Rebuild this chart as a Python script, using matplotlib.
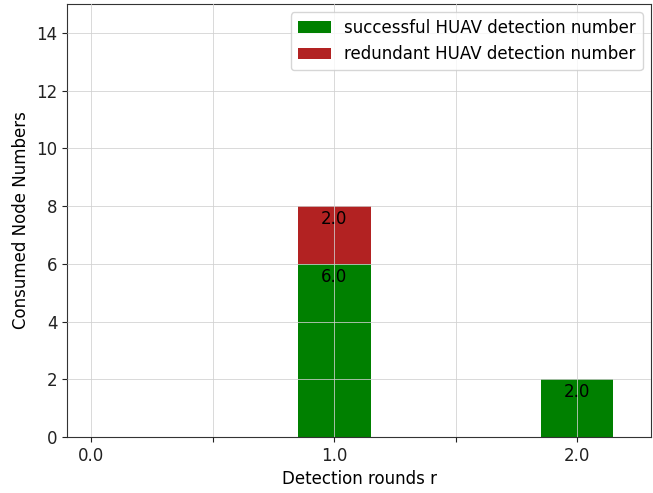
import numpy as np
import matplotlib
matplotlib.use('Agg')
from matplotlib import pyplot as plt

# detection rounds and node counts per round
rounds = [0.0, 1.0, 2.0]
successful = [0, 6, 2]
redundant = [0, 2, 0]
tick_pos = [0.0, 0.5, 1.0, 1.5, 2.0]
tick_labels = ['0.0', '', '1.0', '', '2.0']

plt.rcParams['font.size'] = 12

fig = plt.figure(figsize=(6.53, 4.93), dpi=100)
ax = fig.add_axes([0.1026, 0.1136, 0.8945, 0.8783])

width = 0.3
b1 = ax.bar(rounds, successful, width, color='#008000',
            label='successful HUAV detection number', zorder=2)
b2 = ax.bar(rounds, redundant, width, bottom=successful, color='#b22222',
            label='redundant HUAV detection number', zorder=2)

# value labels just under the top of each non-empty segment
for x, s, r in zip(rounds, successful, redundant):
    if s > 0:
        ax.annotate('{0:.1f}'.format(s), (x, s), xytext=(0, -3),
                    textcoords='offset points', ha='center', va='top',
                    fontsize=12, zorder=4)
    if r > 0:
        ax.annotate('{0:.1f}'.format(r), (x, s + r), xytext=(0, -3),
                    textcoords='offset points', ha='center', va='top',
                    fontsize=12, zorder=4)

ax.set_xlim(-0.1, 2.305)
ax.set_ylim(0, 15)
ax.set_xticks(tick_pos)
ax.set_xticklabels(tick_labels)
ax.set_yticks(range(0, 15, 2))
ax.grid(True, color='#d0d0d0', linewidth=0.7, zorder=3, alpha=0.8)
ax.set_axisbelow(False)
for sp in ax.spines.values():
    sp.set_color('#333333')
ax.tick_params(colors='#222222')

ax.set_xlabel('Detection rounds r')
ax.set_ylabel('Consumed Node Numbers')
ax.legend(loc='upper right')

plt.savefig('out.png', dpi=100)
